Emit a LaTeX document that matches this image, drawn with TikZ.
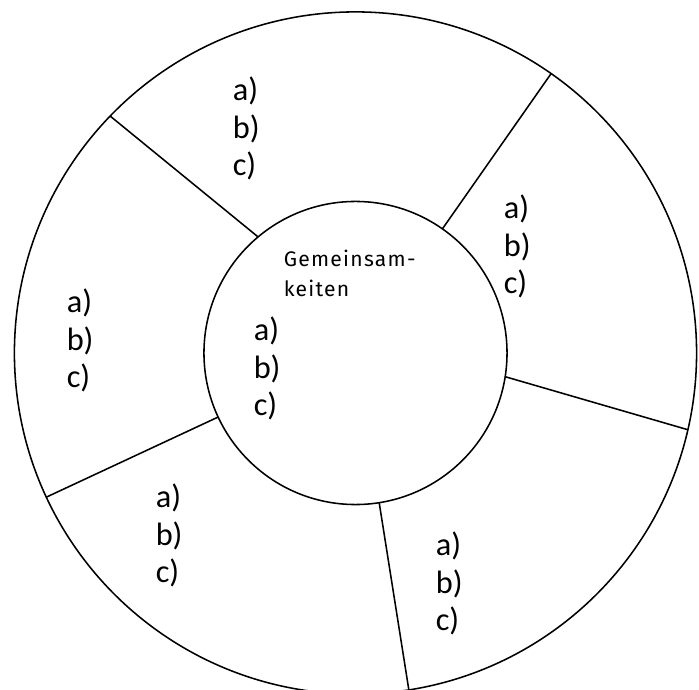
\documentclass[tikz,border=0pt]{standalone}
\usepackage{fontspec}
\newfontfamily\itemfont{Carlito}
\newfontfamily\headfont[LetterSpace=6]{Fira Sans}
\usepackage{tikz}

\begin{document}
\begin{tikzpicture}[x=0.025cm, y=0.025cm, line width=1.1pt,
  ring/.style={circle, draw, inner sep=0pt, outer sep=0pt},
  items/.style={anchor=base west, align=left, inner sep=0pt,
    font=\itemfont\fontsize{23}{27}\selectfont}]

\useasboundingbox (-355.5,-337) rectangle (343.5,353);

% the two rings
\node[ring, minimum size=17.05cm] (outer) at (0,0) {};
\node[ring, minimum size=7.575cm] (inner) at (0,0) {};

% spokes from the inner ring out to the outer one
\draw (inner.130) -- (outer.136);
\draw (inner.55)  -- (outer.55);
\draw (inner.-9)  -- (outer.-13.7);
\draw (inner.205) -- (outer.205);
\draw (inner.-81) -- (outer.-81);

% heading in the middle (base = last line)
\node (head) at (-72.5,56.5) [anchor=base west, align=left, inner sep=0pt,
  font=\headfont\fontsize{15}{21}\selectfont] {Gemeinsam-\\keiten};

% the lists, one per field (base = baseline of c))
\node (mid)   at (-102.5,-63)  [items] {a)\\b)\\c)};
\node (top)   at (-123.5,177)  [items] {a)\\b)\\c)};
\node (right) at (147.5,59)    [items] {a)\\b)\\c)};
\node (left)  at (-289.5,-35)  [items] {a)\\b)\\c)};
\node (low)   at (-200.5,-230) [items] {a)\\b)\\c)};
\node (rlow)  at (79.5,-278)   [items] {a)\\b)\\c)};

\end{tikzpicture}
\end{document}
